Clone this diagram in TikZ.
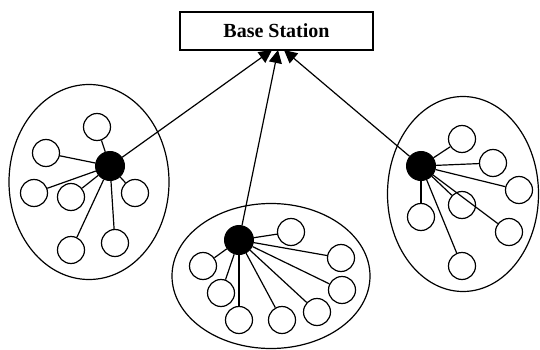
\documentclass[tikz,border=0pt]{standalone}
\usepackage{fontspec}
\setmainfont{Liberation Serif}
\usetikzlibrary{arrows.meta,shapes.geometric}
\tikzset{
  sensor/.style={circle,draw,line width=1.2pt,minimum size=27pt,inner sep=0pt,fill=white},
  head/.style={circle,fill=black,draw,line width=1pt,minimum size=29pt,inner sep=0pt},
  cluster/.style={ellipse,draw,line width=1.2pt,inner sep=0pt},
  link/.style={line width=1.2pt},
  uplink/.style={line width=1.2pt,-{Triangle[length=13pt,width=13pt]}},
  bsbox/.style={draw,line width=1.2pt,minimum width=193pt,minimum height=38pt,inner sep=0pt,font=\fontsize{20pt}{22pt}\selectfont\bfseries}
}
\begin{document}
\begin{tikzpicture}[x=1pt,y=-1pt]
\useasboundingbox (0,0) rectangle (540,350);
% base station
\node[bsbox] (bs) at (276.5,31) {Base Station};
\coordinate (tl) at (272,50);
\coordinate (tm) at (278,50);
\coordinate (tr) at (284,50);
% cluster outlines
\node[cluster,minimum width=160pt,minimum height=195pt] (e1) at (89,182) {};
\node[cluster,minimum width=198pt,minimum height=145pt] (e2) at (271,276) {};
\node[cluster,minimum width=151pt,minimum height=195pt] (e3) at (463,194) {};
% left cluster
\node[head] (h1) at (110,166) {};
\node[sensor] (a1) at (97,127) {};
\node[sensor] (a2) at (46,153) {};
\node[sensor] (a3) at (34,193) {};
\node[sensor] (a4) at (71,197) {};
\node[sensor] (a5) at (135,193) {};
\node[sensor] (a6) at (71,250) {};
\node[sensor] (a7) at (115,243) {};
\foreach \n in {a1,a2,a3,a4,a5,a6,a7} \draw[link] (h1) -- (\n);
% middle cluster
\node[head] (h2) at (239,240) {};
\node[sensor] (b1) at (291,232) {};
\node[sensor] (b2) at (341,258) {};
\node[sensor] (b3) at (203,266) {};
\node[sensor] (b4) at (342,290) {};
\node[sensor] (b5) at (221,293) {};
\node[sensor] (b6) at (317,312) {};
\node[sensor] (b7) at (239,320) {};
\node[sensor] (b8) at (282,320) {};
\foreach \n in {b1,b2,b3,b4,b5,b6,b7,b8} \draw[link] (h2) -- (\n);
% right cluster
\node[head] (h3) at (421,166) {};
\node[sensor] (c1) at (462,139) {};
\node[sensor] (c2) at (493,163) {};
\node[sensor] (c3) at (519,190) {};
\node[sensor] (c4) at (462,205) {};
\node[sensor] (c5) at (421,217) {};
\node[sensor] (c6) at (509,232) {};
\node[sensor] (c7) at (462,266) {};
\foreach \n in {c1,c2,c3,c4,c5,c6,c7} \draw[link] (h3) -- (\n);
% uplinks
\draw[uplink] (h1) -- (tl);
\draw[uplink] (h2) -- (tm);
\draw[uplink] (h3) -- (tr);
\end{tikzpicture}
\end{document}
